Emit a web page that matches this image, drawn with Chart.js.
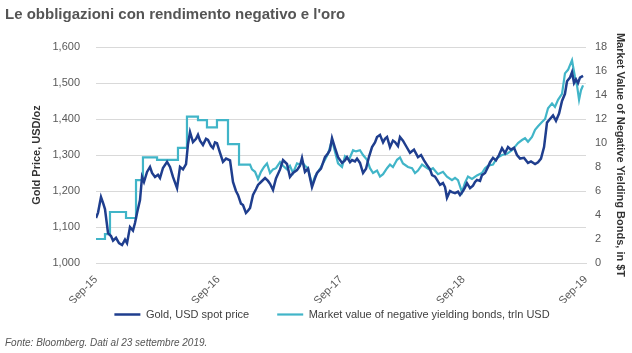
<!DOCTYPE html>
<html>
<head>
<meta charset="utf-8">
<script src="https://cdn.jsdelivr.net/npm/chart.js@4/dist/chart.umd.min.js"></script>
<style>
  html, body { margin:0; padding:0; background:#fff; }
  #wrap { position:relative; width:632px; height:353px; overflow:hidden; }
  #c { position:absolute; left:0; top:0; }
  #title { position:absolute; left:5px; top:5px; font:bold 15px "Liberation Sans", Arial, sans-serif; color:#555; white-space:nowrap; }
  #foot { position:absolute; left:5px; top:337px; font:italic 10px "Liberation Sans", Arial, sans-serif; color:#555; white-space:nowrap; }
</style>
</head>
<body>
<div id="wrap">
  <canvas id="c" width="632" height="353"></canvas>
  <div id="title">Le obbligazioni con rendimento negativo e l'oro</div>
  <div id="foot">Fonte: Bloomberg. Dati al 23 settembre 2019.</div>
</div>
<script>
// Months since Sep-2015
const xTickLabels = ["Sep-15", "Sep-16", "Sep-17", "Sep-18", "Sep-19"];

const goldMonths = [
  0,0.2,0.49,0.69,0.88,1.18,1.47,1.67,1.96,2.25,
  2.55,2.84,3.04,3.33,3.62,3.82,4.02,4.31,4.51,4.7,
  5,5.29,5.49,5.78,6.07,6.27,6.56,6.96,7.25,7.54,
  7.94,8.23,8.52,8.82,9.01,9.21,9.5,9.8,9.99,10.19,
  10.48,10.78,10.97,11.27,11.46,11.66,11.85,12.15,12.44,12.74,
  13.13,13.42,13.71,13.91,14.2,14.4,14.69,14.89,15.09,15.38,
  15.67,15.87,16.16,16.56,16.85,17.05,17.34,17.63,18.03,18.32,
  18.71,19,19.3,19.69,19.98,20.18,20.47,20.77,21.16,21.45,
  21.65,22.04,22.43,22.73,22.92,23.12,23.41,23.71,24.1,24.39,
  24.59,24.88,25.08,25.37,25.57,25.86,26.16,26.45,26.74,27.04,
  27.33,27.53,27.82,28.12,28.31,28.51,28.8,29.09,29.29,29.58,
  29.78,30.07,30.37,30.76,31.15,31.54,31.84,32.13,32.43,32.72,
  32.92,33.21,33.41,33.7,33.99,34.19,34.38,34.68,34.87,35.17,
  35.46,35.66,35.95,36.15,36.34,36.64,36.93,37.13,37.32,37.62,
  37.81,38.11,38.4,38.6,38.89,39.18,39.48,39.77,40.07,40.36,
  40.65,40.95,41.24,41.54,41.93,42.32,42.61,43.01,43.3,43.59,
  43.89,44.18,44.47,44.77,45.06,45.36,45.65,45.94,46.14,46.43,
  46.63,46.83,47.02,47.22,47.41,47.71
];
const goldPrice = [
  1125,1140,1183,1167,1150,1083,1075,1062,1070,1055,
  1050,1065,1055,1100,1090,1111,1139,1175,1239,1225,
  1253,1267,1250,1239,1245,1236,1264,1281,1267,1239,
  1208,1267,1260,1275,1330,1364,1336,1345,1356,1340,
  1328,1345,1342,1325,1319,1335,1333,1306,1281,1290,
  1285,1225,1200,1189,1165,1161,1139,1145,1153,1189,
  1205,1217,1225,1236,1228,1220,1203,1235,1260,1286,
  1275,1239,1250,1258,1270,1292,1253,1262,1211,1235,
  1250,1262,1294,1305,1314,1347,1320,1294,1278,1285,
  1294,1280,1286,1282,1290,1278,1250,1262,1295,1322,
  1335,1350,1356,1335,1345,1350,1322,1340,1336,1325,
  1350,1340,1325,1306,1315,1294,1300,1285,1272,1260,
  1244,1240,1231,1217,1222,1211,1181,1200,1197,1194,
  1198,1189,1200,1210,1222,1208,1215,1225,1231,1228,
  1244,1250,1267,1280,1292,1285,1300,1319,1305,1322,
  1315,1320,1300,1290,1292,1278,1282,1275,1280,1290,
  1322,1390,1400,1410,1395,1415,1450,1470,1505,1515,
  1530,1500,1510,1500,1515,1520
];

const bondMonths = [
  0,0.88,0.88,1.37,1.37,2.94,2.94,3.92,3.92,4.6,
  4.6,5.98,5.98,8.03,8.03,8.91,8.91,9.99,9.99,10.87,
  10.87,11.85,11.85,12.93,12.93,14.01,14.01,15.09,15.28,15.58,
  15.87,16.16,16.46,16.75,17.05,17.34,17.63,18.03,18.32,18.71,
  19,19.3,19.69,19.98,20.18,20.47,20.77,21.16,21.45,21.75,
  22.04,22.43,22.73,23.12,23.31,23.71,24.1,24.39,24.78,25.18,
  25.47,25.86,26.16,26.55,26.84,27.14,27.53,27.82,28.12,28.51,
  28.8,29.09,29.49,29.78,30.07,30.56,30.96,31.25,31.54,31.94,
  32.43,32.72,33.01,33.5,33.99,34.38,34.87,35.17,35.46,35.85,
  36.15,36.44,36.83,37.32,37.81,38.11,38.4,38.89,39.28,39.77,
  40.26,40.75,41.05,41.34,41.73,42.03,42.32,42.71,43.01,43.3,
  43.69,43.99,44.28,44.67,44.96,45.26,45.65,45.94,46.24,46.63,
  46.73,46.92,47.12,47.32,47.51,47.71
];
const bondValue = [
  2.0,2.0,2.4,2.4,4.25,4.25,3.75,3.75,6.9,6.9,
  8.8,8.8,8.6,8.6,9.6,9.6,12.2,12.2,11.9,11.9,
  11.3,11.3,11.9,11.9,9.9,9.9,8.2,8.2,7.8,7.6,
  7.0,7.6,8.0,8.3,7.5,7.8,7.9,8.4,8.1,7.8,
  8.1,7.5,8.3,8.2,8.4,8.1,7.9,6.5,7.2,7.6,
  8.0,8.6,9.1,10.25,9.6,8.3,8.0,8.9,8.6,9.4,
  9.3,9.4,9.0,8.6,7.9,7.5,7.7,7.2,7.4,7.9,
  8.2,8.0,8.6,8.8,8.3,8.0,7.9,7.5,7.7,8.2,
  7.9,7.75,7.9,7.4,7.6,7.2,6.9,7.1,6.9,5.9,
  6.7,7.2,7.0,7.3,7.5,7.9,8.1,8.2,8.75,9.0,
  9.1,9.4,9.7,10.0,10.25,10.4,10.1,10.5,11.1,11.4,
  11.75,12.0,12.9,13.3,13.0,13.6,14.1,15.8,16.1,16.9,
  16.4,15.5,14.8,13.6,14.4,14.8
];

const seriesNames = ["Gold, USD spot price", "Market value of negative yielding bonds, trln USD"];

const goldPts = goldMonths.map((m, i) => ({ x: m, y: goldPrice[i] }));
const bondPts = bondMonths.map((m, i) => ({ x: m, y: bondValue[i] }));

const FONT = '"Liberation Sans", Arial, sans-serif';
const NARROW = '"Liberation Sans Narrow", "Liberation Sans", Arial, sans-serif';

// nudges the legend box (keeps Chart.js's own legend drawing)
const legendNudge = {
  id: 'legendNudge',
  afterLayout(chart) {
    const lg = chart.legend;
    if (!lg) return;
    lg.top -= 22; lg.bottom -= 22;
    lg.left += 16; lg.right += 16;
  }
};

new Chart(document.getElementById('c'), {
  type: 'line',
  data: {
    datasets: [
      { label: seriesNames[0], data: goldPts, yAxisID: 'y', borderColor: '#1f3e8e', backgroundColor: '#1f3e8e',
        borderWidth: 2.5, pointRadius: 0, tension: 0, order: 1 },
      { label: seriesNames[1], data: bondPts, yAxisID: 'y1', borderColor: '#41b5c8', backgroundColor: '#41b5c8',
        borderWidth: 2.2, pointRadius: 0, tension: 0, order: 2 }
    ]
  },
  plugins: [legendNudge],
  options: {
    responsive: false, animation: false, devicePixelRatio: 1,
    layout: { padding: { top: 47, left: 0, right: 0, bottom: 1 } },
    scales: {
      x: {
        type: 'linear', min: 0, max: 48,
        ticks: { stepSize: 12, autoSkip: false, maxRotation: 45, minRotation: 45, padding: 2,
          color: '#595959', font: { family: FONT, size: 11 },
          callback: (v) => xTickLabels[Math.round(v / 12)] },
        grid: { display: false },
        border: { display: true, color: '#d9d9d9' },
        afterFit: (s) => { s.height = 40; }
      },
      y: {
        position: 'left', min: 1000, max: 1600,
        ticks: { stepSize: 100, padding: 16, color: '#595959', font: { family: FONT, size: 11 },
          callback: (v) => v.toLocaleString('en-US') },
        grid: { color: '#d9d9d9', drawTicks: false },
        border: { display: false },
        title: { display: true, text: 'Gold Price, USD/oz', color: '#333',
          font: { family: NARROW, size: 11, weight: 'bold' }, padding: { top: 30, bottom: 0 } },
        afterFit: (s) => { s.width = 96; }
      },
      y1: {
        position: 'right', min: 0, max: 18,
        ticks: { stepSize: 2, padding: 9, color: '#595959', font: { family: FONT, size: 11 } },
        grid: { display: false, drawTicks: false },
        border: { display: false },
        title: { display: true, text: 'Market Value of Negative Yielding Bonds, in $T', color: '#333',
          font: { family: NARROW, size: 11, weight: 'bold' }, padding: { top: 5, bottom: 0 } },
        afterFit: (s) => { s.width = 46; }
      }
    },
    plugins: {
      legend: {
        position: 'bottom',
        labels: { usePointStyle: true, pointStyle: 'line', pointStyleWidth: 26, boxHeight: 11,
          color: '#404040', font: { family: FONT, size: 11 }, padding: 28 }
      },
      tooltip: { enabled: false }
    }
  }
});
</script>
</body>
</html>
